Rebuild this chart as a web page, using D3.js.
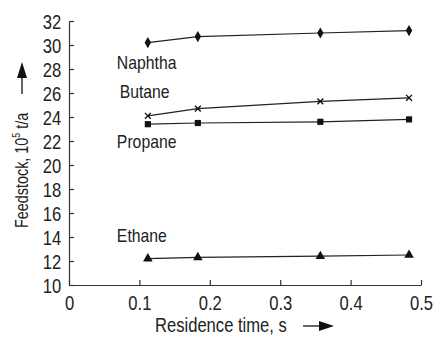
<!DOCTYPE html>
<html>
<head>
<meta charset="utf-8">
<script src="https://cdn.jsdelivr.net/npm/d3@7"></script>
<style>
  body { margin: 0; background: #fff; }
  text { font-family: "Liberation Sans", Arial, sans-serif; fill: #222; }
</style>
</head>
<body>
<div id="chart"></div>
<script>
// residence time, s
var times = [0.112, 0.183, 0.357, 0.483];

var naphtha = [30.2, 30.7, 31.0, 31.2];
var butane = [24.1, 24.7, 25.3, 25.6];
var propane = [23.4, 23.5, 23.6, 23.8];
var ethane = [12.2, 12.3, 12.4, 12.5];

var seriesNames = ["Naphtha", "Butane", "Propane", "Ethane"];
var seriesValues = [naphtha, butane, propane, ethane];
var seriesMarks = ["diamond", "cross", "square", "triangle"];
// where the name sits (x, y in data units)
var labelPos = [[0.068, 28.0], [0.072, 25.6], [0.068, 21.4], [0.068, 13.6]];

var xTicks = [0, 0.1, 0.2, 0.3, 0.4, 0.5];
var yTicks = [10, 12, 14, 16, 18, 20, 22, 24, 26, 28, 30, 32];

const W = 435, H = 337;
const margins = { top: 21, right: 14, bottom: 52, left: 69 };
const graphWidth = W - margins.left - margins.right;
const graphHeight = H - margins.top - margins.bottom;
const squeeze = 0.83; // the print font is condensed

const svg = d3.select("#chart").append("svg")
  .attr("width", W)
  .attr("height", H);

const graph = svg.append("g")
  .attr("transform", `translate(${margins.left},${margins.top})`);

const x = d3.scaleLinear().domain([0, 0.5]).range([0, graphWidth]);
const y = d3.scaleLinear().domain([10, 32]).range([graphHeight, 0]);

// axes - ticks point inward
const xAxis = d3.axisBottom(x).tickValues(xTicks)
  .tickFormat(d => d === 0 ? "0" : d3.format(".1f")(d))
  .tickSizeInner(-5).tickSizeOuter(0).tickPadding(11);
const yAxis = d3.axisLeft(y).tickValues(yTicks)
  .tickSizeInner(-5).tickSizeOuter(0).tickPadding(9.5);

const xg = graph.append("g")
  .attr("transform", `translate(0,${graphHeight})`)
  .call(xAxis);
const yg = graph.append("g").call(yAxis);

[xg, yg].forEach(g => {
  g.select(".domain").attr("stroke", "#333").attr("stroke-width", 1.2);
  g.selectAll(".tick line").attr("stroke", "#333").attr("stroke-width", 1.2);
  g.selectAll(".tick text")
    .attr("font-size", "20px")
    .attr("fill", "#222")
    .attr("font-family", "\"Liberation Sans\", Arial, sans-serif")
    .attr("transform", `scale(${squeeze},1)`);
});
yg.selectAll(".tick text").attr("dy", "0.36em");

// lines
const line = d3.line()
  .x((d, i) => x(times[i]))
  .y(d => y(d));

seriesValues.forEach((vals, k) => {
  graph.append("path")
    .datum(vals)
    .attr("d", line)
    .attr("fill", "none")
    .attr("stroke", "#222")
    .attr("stroke-width", 1.2);

  const sym = {
    diamond: d3.symbolDiamond,
    square: d3.symbolSquare,
    triangle: d3.symbolTriangle,
    cross: d3.symbolTimes
  }[seriesMarks[k]];
  const size = { diamond: 36, square: 38, triangle: 40, cross: 24 }[seriesMarks[k]];

  graph.selectAll(".m" + k)
    .data(vals)
    .enter()
    .append("path")
    .attr("class", "m" + k)
    .attr("transform", (d, i) => `translate(${x(times[i])},${y(d)})`)
    .attr("d", d3.symbol().type(sym).size(size))
    .attr("fill", seriesMarks[k] === "cross" ? "none" : "#111")
    .attr("stroke", "#111")
    .attr("stroke-width", seriesMarks[k] === "cross" ? 1.4 : 0);

  graph.append("text")
    .attr("transform", `translate(${x(labelPos[k][0])},${y(labelPos[k][1])}) scale(${squeeze},1)`)
    .attr("font-size", "19px")
    .text(seriesNames[k]);
});

// x axis title + arrow
svg.append("text")
  .attr("transform", `translate(155,332) scale(${squeeze},1)`)
  .attr("font-size", "20px")
  .text("Residence time, s");
svg.append("line")
  .attr("x1", 303).attr("x2", 320)
  .attr("y1", 326).attr("y2", 326)
  .attr("stroke", "#111").attr("stroke-width", 1.3);
svg.append("path")
  .attr("d", "M319,321 L334,326 L319,331 Z")
  .attr("fill", "#111");

// y axis title + arrow
const yt = svg.append("text")
  .attr("transform", `translate(28,228) rotate(-90) scale(0.8,1)`)
  .attr("font-size", "18px");
yt.append("tspan").text("Feedstock, 10");
yt.append("tspan").attr("font-size", "11px").attr("dy", "-8").text("5");
yt.append("tspan").attr("dy", "8").text(" t/a");
svg.append("line")
  .attr("x1", 22).attr("x2", 22)
  .attr("y1", 94).attr("y2", 76)
  .attr("stroke", "#111").attr("stroke-width", 1.3);
svg.append("path")
  .attr("d", "M17,78 L22,62 L27,78 Z")
  .attr("fill", "#111");
</script>
</body>
</html>
